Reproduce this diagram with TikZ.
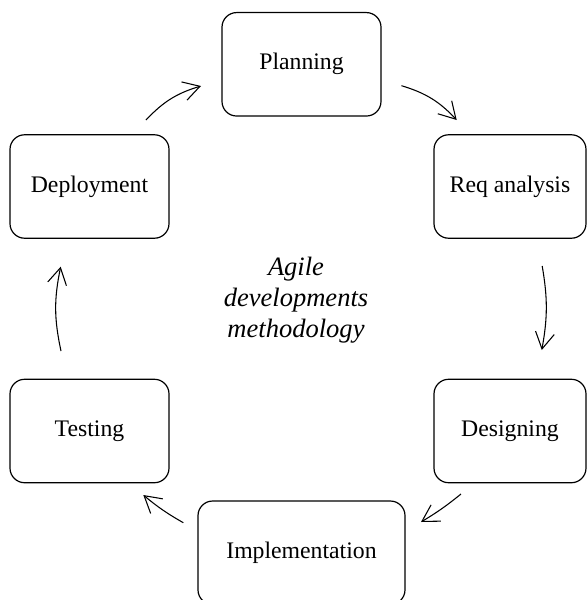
\documentclass[tikz,border=0pt]{standalone}
\usepackage{fontspec}
\setmainfont{Liberation Serif}
\usetikzlibrary{arrows.meta}
\begin{document}
\begin{tikzpicture}[x=0.75pt,y=-0.75pt,
  stage/.style={draw, line width=0.9pt, rounded corners=11pt,
    minimum width=119.25pt, minimum height=77.6pt, align=center,
    inner sep=0pt, font=\fontsize{17.8}{21}\selectfont},
  flow/.style={line width=0.8pt, -{Straight Barb[length=12.3pt,width=14.25pt,line width=0.8pt]}},
]
\clip (0,0) rectangle (587,600);
\node[stage] (plan) at (301.5,64.3) {Planning};
\node[stage] (dep) at (89.5,186.5) {Deployment};
\node[stage, minimum width=114pt] (req) at (510,186.5) {Req analysis};
\node[stage] (test) at (89.5,431) {Testing};
\node[stage, minimum width=114pt] (des) at (510,431) {Designing};
\node[stage, minimum width=155.25pt] (impl) at (301.5,552.75) {Implementation};
\node[align=center, inner sep=0pt, font=\fontsize{19.9}{23}\selectfont\itshape] (title) at (296,300) {Agile\\developments\\methodology};

\coordinate (a1) at (146,120);   \coordinate (b1) at (201,86);
\coordinate (a2) at (401.5,85.7); \coordinate (b2) at (456.7,120);
\coordinate (a3) at (542.2,266); \coordinate (b3) at (541.8,350);
\coordinate (a4) at (461,494);   \coordinate (b4) at (421,522);
\coordinate (a5) at (183.3,522.7); \coordinate (b5) at (143.3,495);
\coordinate (a6) at (61,351);    \coordinate (b6) at (60.7,266.7);

\draw[flow] (a1) to[bend left=15] (b1);
\draw[flow] (a2) to[bend left=15] (b2);
\draw[flow] (a3) to[bend left=10] (b3);
\draw[flow] (a4) to[bend left=4] (b4);
\draw[flow] (a5) to[bend left=5] (b5);
\draw[flow] (a6) to[bend left=12] (b6);
\end{tikzpicture}
\end{document}
